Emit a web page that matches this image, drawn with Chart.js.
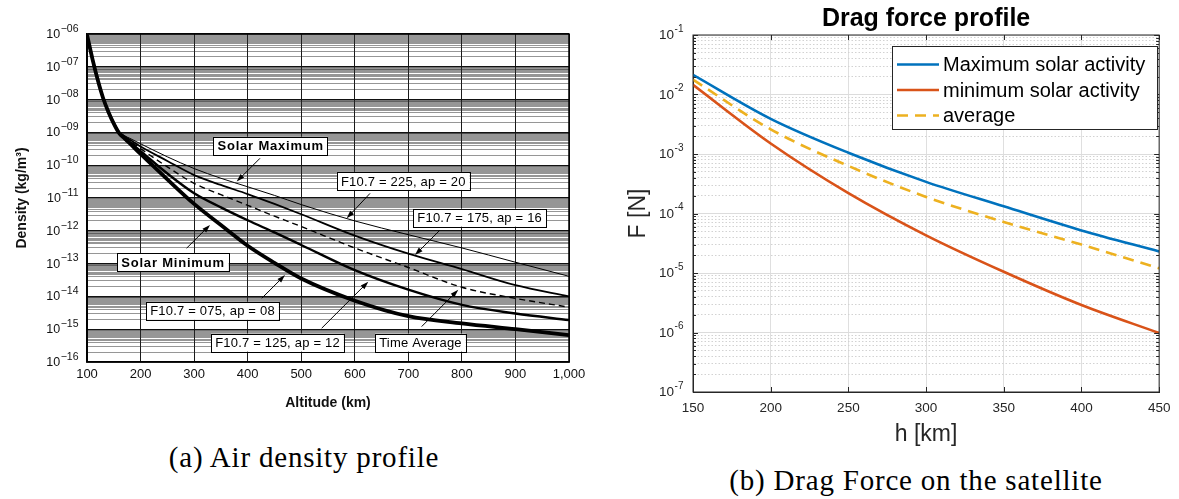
<!DOCTYPE html>
<html>
<head>
<meta charset="utf-8">
<script src="https://cdn.jsdelivr.net/npm/chart.js@4.4.1/dist/chart.umd.min.js"></script>
<style>
  html, body { margin: 0; padding: 0; background: #fff; }
  body { width: 1179px; height: 499px; position: relative; overflow: hidden; }
  #density-wrap { position: absolute; left: 0; top: 0; width: 600px; height: 420px; }
  #drag-wrap { position: absolute; left: 620px; top: 0; width: 559px; height: 460px; }
  .caption {
    position: absolute; white-space: nowrap; color: #000;
    font-family: "Liberation Serif", "Times New Roman", serif;
    font-size: 29px; letter-spacing: 0.8px;
    transform: translate(-50%, -50%);
  }
</style>
</head>
<body>
<div id="density-wrap"><canvas id="density-chart" width="600" height="420"></canvas></div>
<div id="drag-wrap"><canvas id="drag-chart" width="559" height="460"></canvas></div>
<div class="caption" style="left:304px; top:457px">(a) Air density profile</div>
<div class="caption" style="left:916px; top:480px">(b) Drag Force on the satellite</div>
<script>
// ---- left panel: density vs altitude ----
const altitudeKm = [100, 110, 120, 130, 140, 150, 160, 170, 180, 200, 250, 300, 350, 400, 450, 500, 600, 700, 800, 900, 1000];
const density225 = [9.5e-7, 1.78e-7, 4.0e-8, 1.12e-8, 4.3e-9, 1.95e-9, 1.05e-9, 7.9e-10, 6.6e-10, 4.5e-10, 1.8e-10, 7.9e-11, 4.0e-11, 2.2e-11, 1.2e-11, 6.3e-12, 2.0e-12, 7.6e-13, 3.0e-13, 1.1e-13, 4.1e-14];
const density175 = [9.5e-7, 1.78e-7, 4.0e-8, 1.12e-8, 4.3e-9, 1.93e-9, 1.02e-9, 7.6e-10, 6.0e-10, 3.7e-10, 1.35e-10, 5.0e-11, 2.5e-11, 1.32e-11, 6.6e-12, 3.2e-12, 7.1e-13, 2.0e-13, 6.8e-14, 2.2e-14, 1.0e-14];
const densityAvg = [9.5e-7, 1.78e-7, 4.0e-8, 1.12e-8, 4.27e-9, 1.9e-9, 1.0e-9, 7.2e-10, 5.5e-10, 3.2e-10, 8.9e-11, 2.8e-11, 1.26e-11, 6.0e-12, 2.8e-12, 1.35e-12, 3.0e-13, 7.6e-14, 1.9e-14, 8.7e-15, 4.7e-15];
const density125 = [9.5e-7, 1.78e-7, 4.0e-8, 1.12e-8, 4.25e-9, 1.88e-9, 0.98e-9, 6.9e-10, 5.0e-10, 2.7e-10, 5.6e-11, 1.4e-11, 5.2e-12, 2.1e-12, 8.9e-13, 3.7e-13, 6.3e-14, 1.6e-14, 5.5e-15, 3.0e-15, 1.9e-15];
const density075 = [9.5e-7, 1.78e-7, 4.0e-8, 1.12e-8, 4.2e-9, 1.85e-9, 0.95e-9, 6.6e-10, 4.6e-10, 2.2e-10, 3.7e-11, 6.6e-12, 1.5e-12, 3.5e-13, 1.05e-13, 3.5e-14, 7.4e-15, 2.5e-15, 1.5e-15, 1.0e-15, 6.6e-16];

const altitudeTicks = [100, 200, 300, 400, 500, 600, 700, 800, 900, 1000];
const altitudeTickLabels = ['100', '200', '300', '400', '500', '600', '700', '800', '900', '1,000'];
const densityDecades = [1e-16, 1e-15, 1e-14, 1e-13, 1e-12, 1e-11, 1e-10, 1e-9, 1e-8, 1e-7, 1e-6];
const densityTickExponents = ['−16', '−15', '−14', '−13', '−12', '−11', '−10', '−09', '−08', '−07', '−06'];
const densityMinorSteps = [2, 3, 4, 4.5, 5, 5.5, 6, 6.5, 7, 7.5, 8, 8.5, 9, 9.5];

// ---- right panel: drag force vs height ----
const heightKm = [150, 200, 250, 300, 350, 400, 450];
const forceMax = [2.14e-2, 3.9e-3, 1.05e-3, 3.4e-4, 1.32e-4, 5.2e-5, 2.3e-5];
const forceMin = [1.45e-2, 1.5e-3, 2.2e-4, 4.3e-5, 1.05e-5, 2.9e-6, 9.8e-7];
const forceAvg = [1.78e-2, 2.6e-3, 6.3e-4, 1.9e-4, 7.2e-5, 3.0e-5, 1.2e-5];

const heightTicks = [150, 200, 250, 300, 350, 400, 450];
const forceDecades = [1e-7, 1e-6, 1e-5, 1e-4, 1e-3, 1e-2, 1e-1];
const forceTickExponents = ['-7', '-6', '-5', '-4', '-3', '-2', '-1'];
const forceMinorSteps = [2, 3, 4, 5, 6, 7, 8, 9];

const SANS = '"Liberation Sans", Arial, Helvetica, sans-serif';
Chart.defaults.font.family = SANS;

// decade ticks plus minor ticks in between
function logTicks(decades, steps) {
    const ticks = [];
    decades.forEach((d, i) => {
        ticks.push({ value: d, major: true });
        if (i < decades.length - 1) {
            steps.forEach(m => ticks.push({ value: m * d, major: false }));
        }
    });
    return ticks;
}

function toPoints(xs, ys) {
    return xs.map((x, i) => ({ x: x, y: ys[i] }));
}

// box around the plot area
const framePlugin = {
    id: 'frame',
    afterDraw(chart, args, opts) {
        const { ctx, chartArea: a } = chart;
        ctx.save();
        ctx.strokeStyle = opts.color;
        ctx.lineWidth = opts.width;
        ctx.strokeRect(a.left, a.top, a.right - a.left, a.bottom - a.top);
        ctx.restore();
    }
};

// "10" with a raised exponent next to each decade of the y scale
const powerLabelsPlugin = {
    id: 'powerLabels',
    afterDraw(chart, args, opts) {
        const { ctx, chartArea: a } = chart;
        const y = chart.scales.y;
        ctx.save();
        ctx.fillStyle = opts.color;
        ctx.textBaseline = 'middle';
        ctx.textAlign = 'left';
        opts.values.forEach((v, i) => {
            const py = y.getPixelForValue(v);
            const exp = opts.exponents[i];
            ctx.font = opts.expSize + 'px ' + SANS;
            const ew = ctx.measureText(exp).width;
            ctx.font = opts.baseSize + 'px ' + SANS;
            const bw = ctx.measureText('10').width;
            const x = a.left - opts.gap - ew - bw;
            ctx.fillText('10', x, py + 0.5);
            ctx.font = opts.expSize + 'px ' + SANS;
            ctx.fillText(exp, x + bw + 0.5, py - opts.raise);
        });
        ctx.restore();
    }
};

// MATLAB style inward tick marks on all four sides
const innerTicksPlugin = {
    id: 'innerTicks',
    afterDraw(chart, args, opts) {
        const { ctx, chartArea: a, scales } = chart;
        ctx.save();
        ctx.strokeStyle = opts.color;
        ctx.lineWidth = 1;
        ctx.beginPath();
        scales.x.ticks.forEach(t => {
            const px = Math.round(scales.x.getPixelForValue(t.value)) + 0.5;
            ctx.moveTo(px, a.bottom); ctx.lineTo(px, a.bottom - 5);
            ctx.moveTo(px, a.top); ctx.lineTo(px, a.top + 5);
        });
        scales.y.ticks.forEach(t => {
            const py = Math.round(scales.y.getPixelForValue(t.value)) + 0.5;
            const len = t.major ? 5 : 3;
            ctx.moveTo(a.left, py); ctx.lineTo(a.left + len, py);
            ctx.moveTo(a.right, py); ctx.lineTo(a.right - len, py);
        });
        ctx.stroke();
        ctx.restore();
    }
};

// labelled boxes with arrows on the density plot; positions are [km, log10 density]
const densityNotes = [
    { text: 'Solar Maximum', bold: true, box: [443, -9.41], tail: [423, -9.79], tip: [379.5, -10.5] },
    { text: 'Solar Minimum', bold: true, box: [260.6, -12.95], tail: [286, -12.53], tip: [329.7, -11.82] },
    { text: 'F10.7 = 225, ap = 20', box: [690.6, -10.48], tail: [628.4, -10.86], tip: [584.9, -11.62] },
    { text: 'F10.7 = 175, ap = 16', box: [833.2, -11.6], tail: [759, -11.98], tip: [712.4, -12.74] },
    { text: 'F10.7 = 075, ap = 08', box: [334.3, -14.44], tail: [426.2, -14.06], tip: [469.7, -13.35] },
    { text: 'F10.7 = 125, ap = 12', box: [455.7, -15.41], tail: [538.2, -14.97], tip: [625.2, -13.55] },
    { text: 'Time Average', box: [722.7, -15.41], tail: [724.9, -14.92], tip: [793.2, -13.8] }
];

const notesPlugin = {
    id: 'notes',
    afterDraw(chart) {
        const { ctx, scales } = chart;
        const px = p => [scales.x.getPixelForValue(p[0]), scales.y.getPixelForValue(Math.pow(10, p[1]))];
        ctx.save();
        densityNotes.forEach(n => {
            const [x0, y0] = px(n.tail);
            const [x1, y1] = px(n.tip);
            const ang = Math.atan2(y1 - y0, x1 - x0);
            ctx.strokeStyle = '#000';
            ctx.fillStyle = '#000';
            ctx.lineWidth = 1;
            ctx.beginPath();
            ctx.moveTo(x0, y0);
            ctx.lineTo(x1 - 5 * Math.cos(ang), y1 - 5 * Math.sin(ang));
            ctx.stroke();
            ctx.beginPath();
            ctx.moveTo(x1, y1);
            ctx.lineTo(x1 - 8 * Math.cos(ang) + 2.6 * Math.sin(ang), y1 - 8 * Math.sin(ang) - 2.6 * Math.cos(ang));
            ctx.lineTo(x1 - 8 * Math.cos(ang) - 2.6 * Math.sin(ang), y1 - 8 * Math.sin(ang) + 2.6 * Math.cos(ang));
            ctx.closePath();
            ctx.fill();
        });
        densityNotes.forEach(n => {
            const [cx, cy] = px(n.box);
            ctx.font = (n.bold ? 'bold ' : '') + '13px ' + SANS;
            ctx.letterSpacing = n.bold ? '0.8px' : '0.2px';
            const w = ctx.measureText(n.text).width + 8;
            const h = 18;
            ctx.fillStyle = '#fff';
            ctx.fillRect(cx - w / 2, cy - h / 2, w, h);
            ctx.strokeStyle = '#000';
            ctx.lineWidth = 1;
            ctx.strokeRect(Math.round(cx - w / 2) + 0.5, Math.round(cy - h / 2) + 0.5, Math.round(w), h);
            ctx.fillStyle = '#000';
            ctx.textAlign = 'center';
            ctx.textBaseline = 'middle';
            ctx.fillText(n.text, cx, cy + 1);
        });
        ctx.restore();
    }
};

// legend box in the top right corner of the drag plot
const legendBoxPlugin = {
    id: 'legendBox',
    afterDraw(chart) {
        const { ctx, chartArea: a } = chart;
        const sets = chart.data.datasets;
        ctx.save();
        ctx.font = '20px ' + SANS;
        const textW = Math.max(...sets.map(d => ctx.measureText(d.label).width));
        const w = 51 + textW + 12;
        const h = 83;
        const x0 = Math.round(a.right - 2 - w), y0 = Math.round(a.top + 11);
        ctx.fillStyle = '#fff';
        ctx.fillRect(x0, y0, w, h);
        ctx.strokeStyle = '#262626';
        ctx.lineWidth = 1;
        ctx.strokeRect(x0 + 0.5, y0 + 0.5, Math.round(w), h);
        sets.forEach((d, i) => {
            const y = y0 + 18.5 + i * 25.5;
            ctx.strokeStyle = d.borderColor;
            ctx.lineWidth = d.borderWidth;
            ctx.setLineDash(d.borderDash || []);
            ctx.beginPath();
            ctx.moveTo(x0 + 5, y);
            ctx.lineTo(x0 + 47, y);
            ctx.stroke();
            ctx.setLineDash([]);
            ctx.fillStyle = '#000';
            ctx.textAlign = 'left';
            ctx.textBaseline = 'middle';
            ctx.fillText(d.label, x0 + 51, y + 1);
        });
        ctx.restore();
    }
};

function densityLine(label, values, width, dash) {
    return {
        label: label,
        data: toPoints(altitudeKm, values),
        borderColor: '#000',
        borderWidth: width,
        borderDash: dash || [],
        pointRadius: 0,
        cubicInterpolationMode: 'monotone',
        fill: false
    };
}

// Air density profile
new Chart(document.getElementById('density-chart'), {
    type: 'line',
    data: {
        datasets: [
            densityLine('F10.7 = 225, ap = 20', density225, 1),
            densityLine('F10.7 = 175, ap = 16', density175, 1.8),
            densityLine('Time Average', densityAvg, 1.4, [6, 4]),
            densityLine('F10.7 = 125, ap = 12', density125, 2.4),
            densityLine('F10.7 = 075, ap = 08', density075, 3.8)
        ]
    },
    options: {
        responsive: false,
        animation: false,
        devicePixelRatio: 1,
        layout: { padding: { left: 0, top: 34, right: 31, bottom: 0 } },
        plugins: {
            legend: { display: false },
            tooltip: { enabled: false },
            frame: { color: '#000', width: 1.5 },
            powerLabels: {
                values: densityDecades, exponents: densityTickExponents,
                baseSize: 12.5, expSize: 10.5, gap: 9, raise: 5, color: '#111'
            }
        },
        scales: {
            x: {
                type: 'linear',
                min: 100,
                max: 1000,
                afterBuildTicks: s => { s.ticks = altitudeTicks.map(v => ({ value: v })); },
                afterFit: s => { s.height = 58; },
                ticks: {
                    autoSkip: false,
                    maxRotation: 0,
                    padding: 5,
                    color: '#111',
                    font: { size: 13 },
                    callback: v => altitudeTickLabels[altitudeTicks.indexOf(v)]
                },
                grid: { color: '#1a1a1a', lineWidth: 1, drawTicks: false },
                border: { display: true, color: '#000', width: 1.5 },
                title: {
                    display: true,
                    text: 'Altitude (km)',
                    color: '#111',
                    font: { size: 14, weight: 'bold' },
                    padding: { top: 0, bottom: 8.6 }
                }
            },
            y: {
                type: 'logarithmic',
                min: 1e-16,
                max: 1e-6,
                afterBuildTicks: s => { s.ticks = logTicks(densityDecades, densityMinorSteps); },
                afterFit: s => { s.width = 87; },
                ticks: { display: false, autoSkip: false },
                grid: {
                    drawTicks: false,
                    color: c => (c.tick && c.tick.major) ? '#111' : 'rgba(40,40,40,0.62)',
                    lineWidth: c => (c.tick && c.tick.major) ? 1.2 : 0.8
                },
                border: { display: true, color: '#000', width: 1.5 },
                title: {
                    display: true,
                    text: 'Density (kg/m³)',
                    color: '#111',
                    font: { size: 14, weight: 'bold' },
                    padding: { top: 13.6, bottom: 0 }
                }
            }
        }
    },
    plugins: [framePlugin, notesPlugin, powerLabelsPlugin]
});

function forceLine(label, values, color, dash) {
    return {
        label: label,
        data: toPoints(heightKm, values),
        borderColor: color,
        borderWidth: 2.6,
        borderDash: dash || [],
        pointRadius: 0,
        cubicInterpolationMode: 'monotone',
        fill: false
    };
}

// Drag force profile
new Chart(document.getElementById('drag-chart'), {
    type: 'line',
    data: {
        datasets: [
            forceLine('Maximum solar activity', forceMax, '#0072BD'),
            forceLine('minimum solar activity', forceMin, '#D95319'),
            forceLine('average', forceAvg, '#EDB120', [11, 7])
        ]
    },
    options: {
        responsive: false,
        animation: false,
        devicePixelRatio: 1,
        layout: { padding: { left: 0, top: 0, right: 17, bottom: 0 } },
        plugins: {
            legend: { display: false },
            tooltip: { enabled: false },
            title: {
                display: true,
                text: 'Drag force profile',
                color: '#000',
                fullSize: false,
                font: { size: 25, weight: 'bold' },
                padding: { top: 4, bottom: 1 }
            },
            frame: { color: '#262626', width: 1 },
            innerTicks: { color: '#262626' },
            powerLabels: {
                values: forceDecades, exponents: forceTickExponents,
                baseSize: 13.5, expSize: 10, gap: 10, raise: 6, color: '#262626'
            }
        },
        scales: {
            x: {
                type: 'linear',
                min: 150,
                max: 450,
                afterBuildTicks: s => { s.ticks = heightTicks.map(v => ({ value: v })); },
                afterFit: s => { s.height = 68; },
                ticks: {
                    autoSkip: false,
                    maxRotation: 0,
                    padding: 8.6,
                    color: '#262626',
                    font: { size: 13.5 }
                },
                grid: { color: '#dfdfdf', lineWidth: 1, drawTicks: false },
                border: { display: true, color: '#262626', width: 1 },
                title: {
                    display: true,
                    text: 'h [km]',
                    color: '#262626',
                    font: { size: 23 },
                    padding: { top: 0, bottom: 11.2 }
                }
            },
            y: {
                type: 'logarithmic',
                min: 1e-7,
                max: 1e-1,
                afterBuildTicks: s => { s.ticks = logTicks(forceDecades, forceMinorSteps); },
                afterFit: s => { s.width = 73; },
                ticks: { display: false, autoSkip: false },
                grid: {
                    drawTicks: false,
                    color: c => (c.tick && c.tick.major) ? '#dcdcdc' : '#d2d2d2',
                    lineWidth: 1
                },
                border: {
                    display: true,
                    color: '#262626',
                    width: 1,
                    dash: c => (c.tick && !c.tick.major) ? [1.5, 2] : []
                },
                title: {
                    display: true,
                    text: 'F [N]',
                    color: '#262626',
                    font: { size: 23 },
                    padding: { top: 5, bottom: 0 }
                }
            }
        }
    },
    plugins: [framePlugin, innerTicksPlugin, legendBoxPlugin, powerLabelsPlugin]
});
</script>
</body>
</html>
